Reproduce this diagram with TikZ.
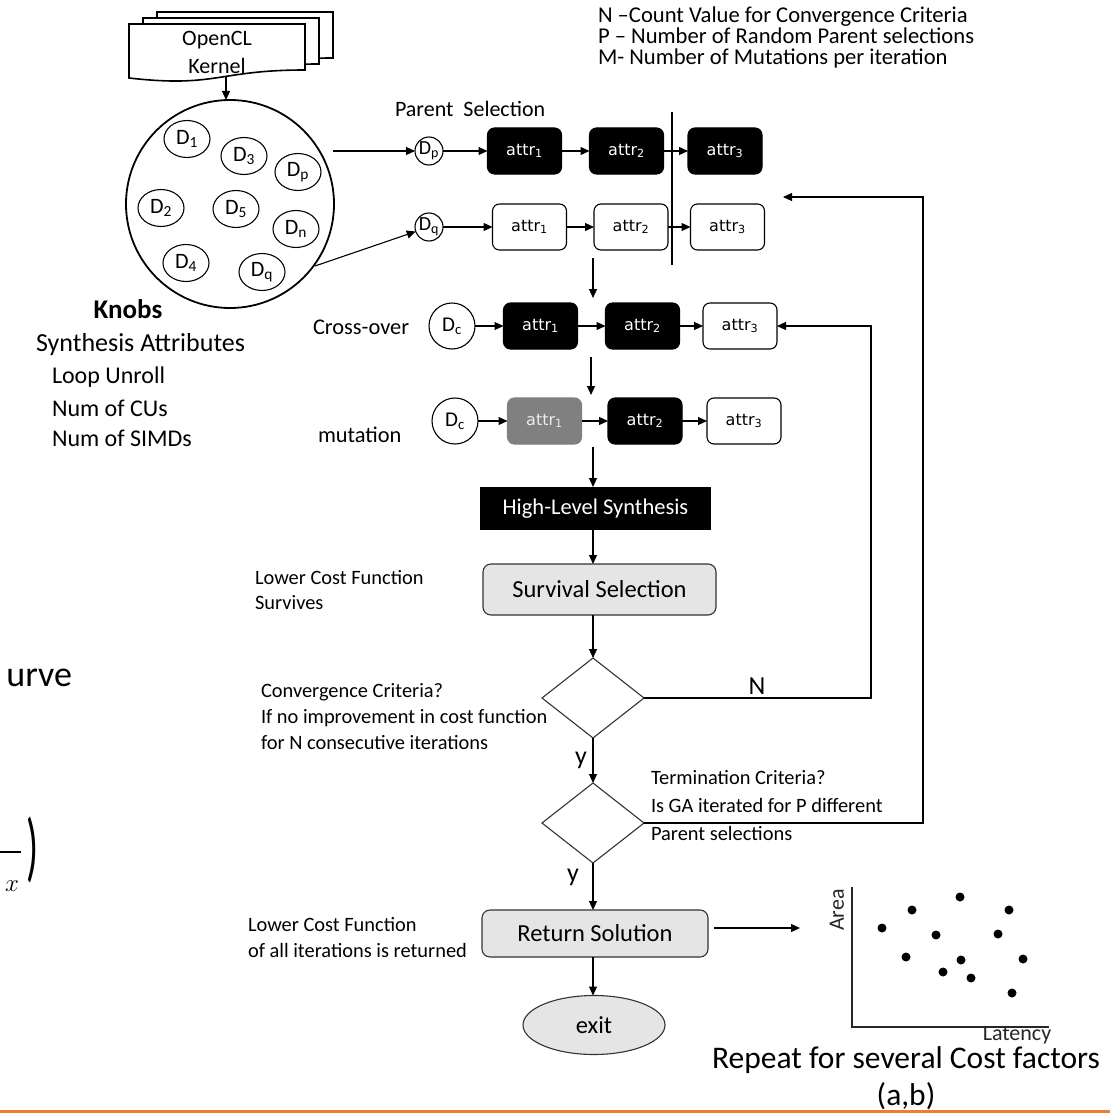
\documentclass[tikz,border=0pt]{standalone}
\usepackage{fontspec}
\setmainfont{Carlito}
\newfontfamily\attrfont{DejaVu Sans}
\usetikzlibrary{arrows.meta,shapes.geometric,calc}
\newcommand\fsz[2]{\fontsize{#1pt}{#2pt}\selectfont}
\definecolor{orangeline}{HTML}{ED7D31}
\begin{document}
\begin{tikzpicture}[x=1pt,y=-1pt,
  every node/.style={inner sep=0pt, outer sep=0pt},
  arr/.style={-{Triangle[length=9pt,width=8pt]}, line width=1.1pt},
  ln/.style={line width=1.1pt},
  attrbox/.style={rectangle, rounded corners=7pt, draw=black, line width=1.1pt, minimum width=74pt, minimum height=46pt, font=\attrfont\fsz{16}{18}},
  blkbox/.style={attrbox, fill=black, text=white},
  whtbox/.style={attrbox, fill=white, text=black},
  grybox/.style={attrbox, fill=gray, draw=gray, text=white!85!gray},
  pcirc/.style={circle, draw, line width=1.1pt, minimum size=28pt, font=\fsz{20}{22}},
  ccirc/.style={circle, draw, line width=1.1pt, minimum size=46pt, font=\fsz{21}{22}},
  dell/.style={ellipse, draw, line width=1.1pt, minimum width=46pt, minimum height=37pt, font=\fsz{22}{22}},
  flowbox/.style={rectangle, rounded corners=8pt, draw=gray!40!black, line width=1.1pt, fill=gray!20, font=\fsz{24.5}{26}},
  dec/.style={diamond, draw=gray!40!black, line width=1.1pt, fill=white, minimum width=102pt, minimum height=80pt},
  lbl/.style={anchor=west, align=left},
]
\useasboundingbox (0,0) rectangle (1110,1113);
\fill[white] (0,0) rectangle (1110,1113);

% OpenCL kernel multi-document
\foreach \x/\y in {157/12,143/18,129/24} {
  \draw[line width=1.6pt, fill=white] (\x,\y) -- (\x+176,\y) -- (\x+176,\y+46)
     .. controls (\x+88,\y+46) and (\x+88,\y+64) .. (\x,\y+54) -- cycle;
}
\node[align=center, font=\fsz{22}{28}] (ocl) at (217,52) {OpenCL\\Kernel};
\coordinate (docb) at (226,77);

% design pool
\node[circle, draw, line width=1.8pt, minimum size=208pt] (pool) at (230,204) {};
\draw[arr] (docb) -- (docb |- pool.north);
\node[dell] (e1) at (187,139) {D\textsubscript{1}};
\node[dell] (e3) at (244,156) {D\textsubscript{3}};
\node[dell] (ep) at (298,172) {D\textsubscript{p}};
\node[dell] (e2) at (161,208) {D\textsubscript{2}};
\node[dell] (e5) at (236,209) {D\textsubscript{5}};
\node[dell] (en) at (296,229) {D\textsubscript{n}};
\node[dell] (e4) at (186,263) {D\textsubscript{4}};
\node[dell] (eq) at (262,272) {D\textsubscript{q}};

% knobs
\node[font=\bfseries\fsz{27}{30}] (knobs) at (128,309) {Knobs};
\node[lbl, font=\fsz{26}{30}] (syn) at (36,345) {Synthesis Attributes};
\node[lbl, font=\fsz{24}{28}] (lu) at (52,377) {Loop Unroll};
\node[lbl, font=\fsz{24}{28}] (cu) at (52,408) {Num of CUs};
\node[lbl, font=\fsz{24}{28}] (simd) at (52,438) {Num of SIMDs};

% legend
\node[anchor=north west, align=left, font=\fsz{22.6}{21}] (legend) at (598,7)
 {N –Count Value for Convergence Criteria\\P – Number of Random Parent selections\\M- Number of Mutations per iteration};

% parent selection rows
\node[lbl, font=\fsz{22}{24}] (ps) at (395,109) {Parent\ \ Selection};
\node[pcirc] (dp) at (429,151) {D\textsubscript{p}};
\node[blkbox] (p1) at (524.5,151) {attr\textsubscript{1}};
\node[blkbox] (p2) at (626.5,151) {attr\textsubscript{2}};
\node[blkbox] (p3) at (725,151) {attr\textsubscript{3}};
\node[pcirc] (dq) at (429,227) {D\textsubscript{q}};
\node[whtbox] (q1) at (529.5,227) {attr\textsubscript{1}};
\node[whtbox] (q2) at (631,227) {attr\textsubscript{2}};
\node[whtbox] (q3) at (727.5,227) {attr\textsubscript{3}};
\coordinate (pa) at (333,151);
\coordinate (qa) at (315,266);
\draw[arr] (pa) -- (dp);
\draw[arr] (qa) -- (dq);
\draw[arr] (dp) -- (p1);
\draw[arr] (p1) -- (p2);
\draw[arr] (p2) -- (p3);
\draw[arr] (dq) -- (q1);
\draw[arr] (q1) -- (q2);
\draw[arr] (q2) -- (q3);
\coordinate (cut1) at (672,112);
\coordinate (cut2) at (672,265);
\draw[ln] (cut1) -- (cut2);

% crossover
\node[lbl, font=\fsz{22.4}{24}] (colbl) at (313,327) {Cross-over};
\node[ccirc] (dc) at (452,326) {D\textsubscript{c}};
\node[blkbox] (c1) at (540.5,326) {attr\textsubscript{1}};
\node[blkbox] (c2) at (642.5,326) {attr\textsubscript{2}};
\node[whtbox] (c3) at (740,326) {attr\textsubscript{3}};
\draw[arr] (dc) -- (c1);
\draw[arr] (c1) -- (c2);
\draw[arr] (c2) -- (c3);
\coordinate (s1) at (593,258);
\draw[arr] (s1) -- (593,298);

% mutation
\node[lbl, font=\fsz{22.4}{24}] (mlbl) at (318,435) {mutation};
\node[ccirc] (dm) at (455,421) {$\mathrm{D}$\textsubscript{c}};
\node[grybox] (m1) at (544.5,421) {attr\textsubscript{1}};
\node[blkbox] (m2) at (645,421) {attr\textsubscript{2}};
\node[whtbox] (m3) at (744,421) {attr\textsubscript{3}};
\draw[arr] (dm) -- (m1);
\draw[arr] (m1) -- (m2);
\draw[arr] (m2) -- (m3);
\coordinate (s2) at (591,357);
\draw[arr] (s2) -- (591,395);

% main flow
\node[rectangle, fill=black, text=white, minimum width=231pt, minimum height=43pt, font=\fsz{22.5}{24}] (hls) at (595.5,508.5) {High-Level Synthesis};
\node[flowbox, minimum width=233pt, minimum height=51pt] (surv) at (599.5,589.5) {Survival Selection};
\node[dec] (d1) at (593,698) {};
\node[dec] (d2) at (593,823) {};
\node[flowbox, minimum width=226pt, minimum height=47pt] (ret) at (595,933.5) {Return Solution};
\node[ellipse, draw=gray!40!black, line width=1.1pt, fill=gray!20, minimum width=142pt, minimum height=59pt, font=\fsz{24.5}{26}] (ex) at (594,1025) {exit};
\coordinate (s3) at (593,447);
\draw[arr] (s3) -- (s3 |- hls.north);
\draw[arr] (hls.south -| s3) -- (surv.north -| s3);
\draw[arr] (surv.south -| s3) -- (d1.north);
\draw[arr] (d1.south) -- (d2.north);
\draw[arr] (d2.south) -- (ret.north -| d2.south);
\draw[arr] (ret.south -| d2.south) -- (ex.north -| d2.south);

\node[font=\fsz{26}{28}] (y1) at (581,760) {y};
\node[font=\fsz{26}{28}] (y2) at (573,877) {y};

% loops
\coordinate (nc) at (871,326);
\draw[arr] (d1.east) -| (nc) -- (c3.east);
\node[font=\fsz{26}{28}] (nl) at (757,686) {N};
\coordinate (tc) at (923,197);
\coordinate (tt) at (783,197);
\draw[arr] (d2.east) -| (tc) -- (tt);

% side texts
\node[lbl, font=\fsz{20.4}{25}] (lcf1) at (255,590) {Lower Cost Function\\Survives};
\node[lbl, font=\fsz{20.4}{26}] (conv) at (261,717) {Convergence Criteria?\\If no improvement in cost function\\for N consecutive iterations};
\node[lbl, font=\fsz{20.4}{28}] (term) at (651,806) {Termination Criteria?\\Is GA iterated for P different\\Parent selections};
\node[lbl, font=\fsz{20.4}{26}] (lcf2) at (248,938) {Lower Cost Function\\of all iterations is returned};

% scatter plot
\draw[line width=1.3pt, gray!30!black] (852,887) -- (852,1027) -- (1049,1027);
\node[rotate=90, font=\fsz{22}{24}, text=gray!30!black] (area) at (837,910) {Area};
\node[font=\fsz{22}{24}, text=gray!30!black] (lat) at (1017,1035) {Latency};
\foreach \px/\py in {882/928,912/910,960/897,1009/910,936/935,998/934,906/957,961/960,1023/959,943/972,971/978,1012/993}
  \fill (\px,\py) circle (4.5);
\coordinate (pt) at (800,928);
\draw[arr] (pt -| ret.east) ++(6,0) -- (pt);
\node[align=center, font=\fsz{31.5}{37}] (rep) at (906,1078) {Repeat for several Cost factors\\(a,b)};

% cut-off fragments at left
\node[anchor=east, font=\fsz{36}{40}] (urve) at (72,678) {urve};
\node[font=\fsz{40}{40}, yscale=1.9, transform shape] (paren) at (33,850) {)};
\draw[line width=2.4pt] (0,852) -- (21,852);
\node[font=\fsz{24}{24}] (xv) at (12,886) {$x$};

\draw[line width=3pt, orangeline] (0,1111.5) -- (1110,1111.5);
\end{tikzpicture}
\end{document}
